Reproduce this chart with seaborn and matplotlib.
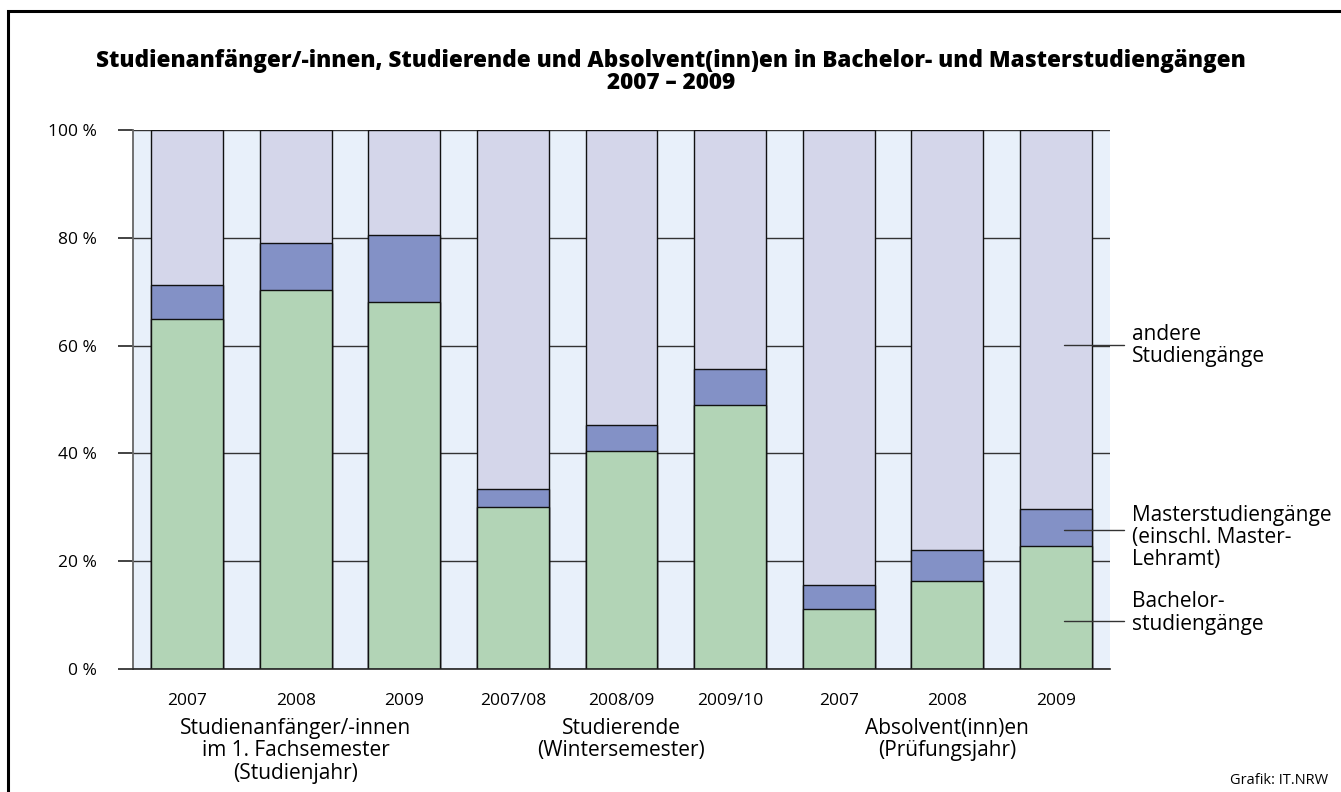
import matplotlib
matplotlib.use("Agg")
import matplotlib.pyplot as plt
from matplotlib.patches import Rectangle
import seaborn as sns
import pandas as pd

# ---- data ----
years = ["2007", "2008", "2009", "2007/08", "2008/09", "2009/10", "2007", "2008", "2009"]
groups = ["Studienanfänger/-innen\nim 1. Fachsemester\n(Studienjahr)",
          "Studierende\n(Wintersemester)",
          "Absolvent(inn)en\n(Prüfungsjahr)"]
bachelor = [64.9, 70.3, 68.1, 30.0, 40.4, 49.0, 11.2, 16.4, 22.9]
master = [6.3, 8.7, 12.4, 3.4, 4.9, 6.7, 4.3, 5.6, 6.7]
andere_total = [100, 100, 100, 100, 100, 100, 100, 100, 100]
yticks = [0, 20, 40, 60, 80, 100]
ann_txt = ["andere\nStudiengänge", "Masterstudiengänge\n(einschl. Master-\nLehramt)", "Bachelor-\nstudiengänge"]

col_bach = "#B2D4B6"
col_master = "#8391C6"
col_andere = "#D4D6EA"
col_bg = "#E8F0FA"

sns.set_theme(style="white")
plt.rcParams["font.family"] = ["Open Sans", "DejaVu Sans"]
plt.rcParams["text.color"] = "black"
plt.rcParams["xtick.color"] = "black"
plt.rcParams["ytick.color"] = "black"

W, H = 1341, 792
fig = plt.figure(figsize=(W / 100, H / 100), dpi=100)
ax = fig.add_axes([133 / W, (H - 669) / H, (1110 - 133) / W, (669 - 130) / H])
ax.set_facecolor(col_bg)

pos = list(range(len(years)))
df = pd.DataFrame({
    "pos": pos,
    "andere": andere_total,
    "master_cum": [b + m for b, m in zip(bachelor, master)],
    "bachelor": bachelor,
})

for hcol, c in [("andere", col_andere), ("master_cum", col_master), ("bachelor", col_bach)]:
    sns.barplot(data=df, x="pos", y=hcol, order=pos, color=c, width=0.663,
                edgecolor="#111111", linewidth=1.0, saturation=1, ax=ax, zorder=3)

ax.set_xlim(-0.5, 8.5)
ax.set_ylim(0, 100)
ax.set_yticks(yticks)
ax.set_yticklabels([f"{v} %" for v in yticks], fontsize=12.5)
ax.set_xticks(pos)
ax.set_xticklabels(years, fontsize=12.5)
ax.set_xlabel("")
ax.set_ylabel("")
ax.tick_params(axis="y", direction="out", length=11, width=1.2, color="#222222", pad=15, left=True)
ax.tick_params(axis="x", length=0, pad=17)
ax.yaxis.grid(True, color="#333333", linewidth=1.0, zorder=1)
ax.set_axisbelow(True)
for s in ["top", "right"]:
    ax.spines[s].set_visible(False)
ax.spines["left"].set_color("#666666")
ax.spines["left"].set_linewidth(1.3)
ax.spines["bottom"].set_color("#222222")
ax.spines["bottom"].set_linewidth(1.2)
ax.spines["bottom"].set_zorder(5)

# group labels
for i, g in enumerate(groups):
    ax.text(3 * i + 1, -9.0, g, ha="center", va="top", fontsize=15,
            linespacing=1.12, clip_on=False)

# right-side annotations
line_y = [60.1, 25.8, 8.9]
text_y = [60.0, 24.4, 10.4]
for yv in line_y:
    ax.plot([8.08, 8.63], [yv, yv], color="#333333", lw=1.0, clip_on=False, zorder=6)
for yv, t in zip(text_y, ann_txt):
    ax.text(8.7, yv, t, ha="left", va="center", fontsize=15, linespacing=1.08,
            clip_on=False)

# title
fig.text(671 / W, 1 - 72 / H,
         "Studienanfänger/-innen, Studierende und Absolvent(inn)en in Bachelor- und Masterstudiengängen\n2007 – 2009",
         ha="center", va="center", fontsize=16.2, fontweight="heavy", linespacing=0.92)

fig.text(1328 / W, 1 - 781 / H, "Grafik: IT.NRW", ha="right", va="center", fontsize=10.5)

# frame
fig.patches.append(Rectangle((8 / W, -0.01), 1.0, 1 - 11 / H + 0.01, transform=fig.transFigure,
                             fill=False, edgecolor="black", linewidth=2.2))

fig.savefig("out.png", dpi=100)
